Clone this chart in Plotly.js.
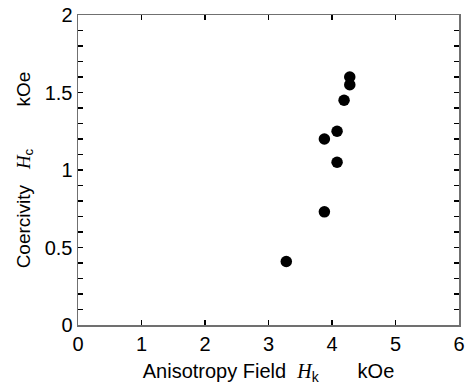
<!DOCTYPE html>
<html><head><meta charset="utf-8">
<script src="https://cdn.plot.ly/plotly-3.0.1.min.js"></script>
<style>html,body{margin:0;padding:0;background:#fff}</style>
</head><body>
<div id="chart" style="width:468px;height:385px"></div>
<script>
const anisotropyField = [3.28, 3.88, 3.88, 4.08, 4.08, 4.19, 4.28, 4.28];
const coercivity = [0.41, 0.73, 1.20, 1.05, 1.25, 1.45, 1.60, 1.55];
const xTicks = [0, 1, 2, 3, 4, 5, 6];
const yTicks = [0, 0.5, 1, 1.5, 2];
const yTickText = ['0', '0.5', '1', '1.5', '2'];

const H = '<span style="font-family:\'Liberation Serif\',\'Times New Roman\',serif;font-style:italic">H</span>';
const sp = n => '&nbsp;'.repeat(n);

const trace = {
  x: anisotropyField, y: coercivity, type: 'scatter', mode: 'markers',
  marker: {color: '#000', size: 11.5}, hoverinfo: 'skip', showlegend: false
};
const axisCommon = {
  showgrid: false, zeroline: false, showline: true, linecolor: '#707070', linewidth: 1.5,
  mirror: 'ticks', ticks: 'inside', ticklen: 5, tickwidth: 1.2, tickcolor: '#000',
  tickfont: {family: 'Liberation Sans, Arial, sans-serif', size: 20, color: '#000'}
};
const layout = {
  width: 468, height: 385,
  margin: {l: 78, r: 9, t: 15, b: 60},
  paper_bgcolor: '#fff', plot_bgcolor: '#fff',
  font: {family: 'Liberation Sans, Arial, sans-serif', size: 20, color: '#000'},
  xaxis: Object.assign({}, axisCommon, {
    range: [0, 6], tickmode: 'array', tickvals: xTicks, ticktext: xTicks.map(String),
    title: {text: 'Anisotropy Field' + sp(1) + ' ' + H + '<sub>k</sub>' + sp(7) + 'kOe',
            font: {size: 20}}
  }),
  yaxis: Object.assign({}, axisCommon, {
    range: [0, 2], tickmode: 'array', tickvals: yTicks, ticktext: yTickText,
    minor: {tickmode: 'linear', dtick: 0.1, tick0: 0, ticks: 'inside', ticklen: 5, tickcolor: '#000', tickwidth: 1.2, showgrid: false},
    title: {text: 'Coercivity' + sp(3) + H + '<sub>c</sub>' + sp(8) + 'kOe',
            font: {size: 19}}
  })
};
Plotly.newPlot('chart', [trace], layout, {staticPlot: true, displayModeBar: false});
</script>
</body></html>
